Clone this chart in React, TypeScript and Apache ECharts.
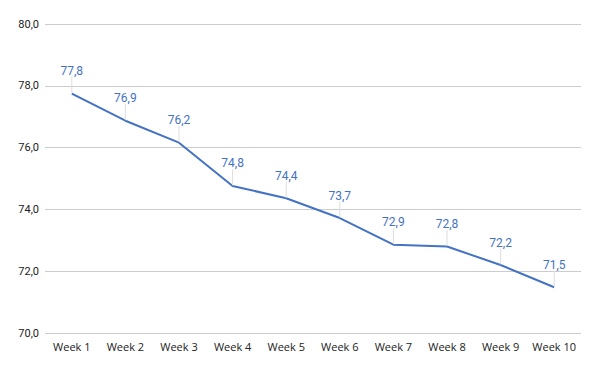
import React, { useEffect, useRef } from "react";
import * as echarts from "echarts";

const categories = ["Week 1", "Week 2", "Week 3", "Week 4", "Week 5", "Week 6", "Week 7", "Week 8", "Week 9", "Week 10"];
const values = [77.75, 76.87, 76.16, 74.76, 74.36, 73.72, 72.86, 72.8, 72.2, 71.48];

export default function App() {
  const ref = useRef<HTMLDivElement>(null);
  useEffect(() => {
    const chart = echarts.init(ref.current!, null, { renderer: "svg" });
    chart.setOption({
      animation: false,
      backgroundColor: "#ffffff",
      grid: { left: 45, right: 19, top: 24, bottom: 38 },
      xAxis: {
        type: "category",
        data: categories,
        boundaryGap: true,
        axisLine: { show: false },
        axisTick: { show: false },
        axisLabel: { color: "#222", fontSize: 11, fontFamily: "Open Sans", margin: 8, interval: 0 },
      },
      yAxis: {
        type: "value",
        min: 70,
        max: 80,
        interval: 2,
        axisLine: { show: false },
        axisTick: { show: false },
        splitLine: { lineStyle: { color: "#cccccc", width: 1 } },
        axisLabel: {
          color: "#222",
          fontSize: 11,
          fontFamily: "Roboto",
          margin: 6,
          formatter: (v: number) => v.toFixed(1).replace(".", ","),
        },
      },
      series: [
        {
          type: "line",
          data: values,
          showSymbol: true,
          symbol: "circle",
          symbolSize: 1,
          lineStyle: { color: "#4472C4", width: 2 },
          itemStyle: { color: "rgba(0,0,0,0)", borderWidth: 0 },
          label: {
            show: true,
            position: "top",
            distance: 2,
            color: "#4472C4",
            fontSize: 12,
            fontFamily: "Roboto",
            formatter: (p: any) => (p.value as number).toFixed(1).replace(".", ","),
          },
          labelLayout: { dy: -14 },
          labelLine: { show: true, lineStyle: { color: "#dddddd", width: 1 } },
        },
      ],
    });
    return () => chart.dispose();
  }, []);
  return <div ref={ref} style={{ width: 600, height: 371, position: "absolute", left: 0, top: 0 }} />;
}
